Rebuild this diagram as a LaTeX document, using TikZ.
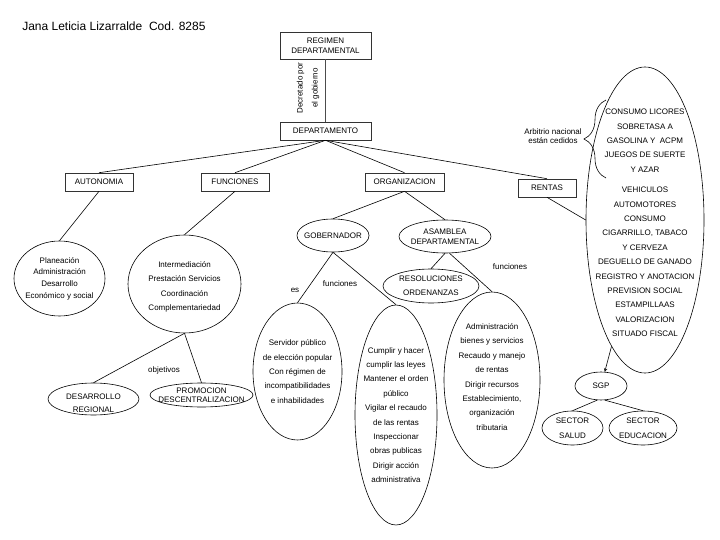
\documentclass[tikz,border=0pt]{standalone}
\usepackage{fontspec}
\setmainfont{Liberation Sans}
\usetikzlibrary{shapes.geometric,decorations.pathreplacing}
\begin{document}
\begin{tikzpicture}[>=stealth, x=1pt, y=-1pt, line width=0.6pt,
  box/.style={draw=black!80, inner sep=0pt, align=center, minimum height=18pt, font=\fontsize{8}{10}\selectfont},
  oval/.style={draw, ellipse, inner sep=0pt},
  txt/.style={align=center, inner sep=0pt, font=\fontsize{8}{14.4}\selectfont},
  lbl/.style={align=center, inner sep=0pt, font=\fontsize{8}{9}\selectfont}]
\useasboundingbox (0,0) rectangle (720,540);
\node[anchor=base west, inner sep=0pt, font=\fontsize{12}{14}\selectfont] (title) at (22,31) {Jana Leticia Lizarralde~~Cod. 8285};
% top of the tree
\node[box, minimum width=91pt, minimum height=27pt] (reg) at (325.5,45.5) {REGIMEN\\DEPARTAMENTAL};
\node[box, minimum width=91pt] (dep) at (325.5,131) {DEPARTAMENTO};
\node[lbl, rotate=90, font=\fontsize{8}{15}\selectfont] (dec) at (308,88) {Decretado por\\el gobierno};
\node[box, minimum width=68pt] (auto) at (99,182) {AUTONOMIA};
\node[box, minimum width=68pt] (func) at (235,182) {FUNCIONES};
\node[box, minimum width=79pt] (org) at (404.5,182) {ORGANIZACION};
\node[box, minimum width=58pt] (rent) at (547,188) {RENTAS};
% autonomia and funciones
\node[oval, minimum width=91pt, minimum height=75pt, label={[txt, font=\fontsize{8}{11.7}\selectfont]center:Planeación\\Administración\\Desarrollo\\Económico y social}] (plan) at (59.5,278.5) {};
\node[oval, minimum width=113pt, minimum height=98pt, label={[txt, yshift=-3pt]center:Intermediación\\Prestación Servicios\\Coordinación\\Complementariedad}] (inter) at (184.5,284) {};
\node[oval, minimum width=91pt, minimum height=32pt, label={[txt, yshift=-4pt, font=\fontsize{8}{13.3}\selectfont]center:DESARROLLO\\REGIONAL}] (desa) at (93.5,399) {};
\node[oval, minimum width=103pt, minimum height=24pt, label={[lbl]center:PROMOCION\\DESCENTRALIZACION}] (prom) at (201.5,395) {};
\node[lbl] (obj) at (164,370) {objetivos};
% organizacion
\node[oval, minimum width=72pt, minimum height=33pt, label={[lbl]center:GOBERNADOR}] (gob) at (333,235.5) {};
\node[oval, minimum width=92pt, minimum height=33pt, label={[lbl, font=\fontsize{8}{9.5}\selectfont]center:ASAMBLEA\\DEPARTAMENTAL}] (asam) at (445,236.5) {};
\node[oval, minimum width=96pt, minimum height=34pt, label={[txt, font=\fontsize{8}{14}\selectfont]center:RESOLUCIONES\\ORDENANZAS}] (reso) at (431,286) {};
\node[oval, minimum width=89pt, minimum height=137pt, label={[txt]center:Servidor público\\de elección popular\\Con régimen de\\incompatibilidades\\e inhabilidades}] (serv) at (297.5,371.5) {};
\node[oval, minimum width=82pt, minimum height=220pt, label={[txt]center:Cumplir y hacer\\cumplir las leyes\\Mantener el orden\\público\\Vigilar el recaudo\\de las rentas\\Inspeccionar\\obras publicas\\Dirigir acción\\administrativa}] (cump) at (396,415) {};
\node[oval, minimum width=96pt, minimum height=176pt, label={[txt, yshift=3pt]center:Administración\\bienes y servicios\\Recaudo y manejo\\de rentas\\Dirigir recursos\\Establecimiento,\\organización\\tributaria}] (admi) at (492,380) {};
\node[lbl] (es) at (295,290) {es};
\node[lbl] (fgob) at (340,284) {funciones};
\node[lbl] (fasam) at (510,267) {funciones};
% rentas
\node[oval, minimum width=118pt, minimum height=306pt, label={[txt, yshift=-3pt]center:CONSUMO LICORES\\SOBRETASA A\\GASOLINA Y~~ACPM\\JUEGOS DE SUERTE\\Y AZAR\\[6pt]VEHICULOS\\AUTOMOTORES\\CONSUMO\\CIGARRILLO, TABACO\\Y CERVEZA\\DEGUELLO DE GANADO\\REGISTRO Y ANOTACION\\PREVISION SOCIAL\\ESTAMPILLAAS\\VALORIZACION\\SITUADO FISCAL}] (imp) at (645,220) {};
\node[lbl] (arb) at (553,136) {Arbitrio nacional\\están cedidos};
\coordinate (brb) at (606,178);
\coordinate (brt) at (606,100);
\draw[decorate, decoration={brace, amplitude=22pt}] (brb) -- (brt);
\node[oval, minimum width=52pt, minimum height=28pt, label={[lbl]center:SGP}] (sgp) at (601,386) {};
\node[oval, minimum width=61pt, minimum height=34pt, label={[txt, font=\fontsize{8}{15}\selectfont]center:SECTOR\\SALUD}] (salud) at (572.5,428) {};
\node[oval, minimum width=68pt, minimum height=34pt, label={[txt, font=\fontsize{8}{15}\selectfont]center:SECTOR\\EDUCACION}] (educ) at (643,428) {};
% connectors
\draw[black!70, line width=0.8pt] (reg) -- (dep);
\draw (dep.south) -- (auto.north);
\draw (dep.south) -- (func.north);
\draw (dep.south) -- (org.north);
\draw (dep.south) -- (rent.north);
\draw (auto.south) -- (plan.north);
\draw (func.south) -- (inter.north);
\draw (inter.south) -- (desa.north);
\draw (inter.south) -- (prom.north);
\draw (org.south) -- (gob.north);
\draw (org.south) -- (asam.north);
\draw (gob.south) -- (serv.north);
\draw (gob.south) -- (cump.north);
\draw (asam.south) -- (reso.north);
\draw (asam.-75) -- (admi.north);
\draw (rent.south) -- (imp.west);
\draw[->] (imp) -- (sgp);
\draw (sgp.-105) -- (salud.north);
\draw (sgp.-75) -- (educ.north);
\end{tikzpicture}
\end{document}
